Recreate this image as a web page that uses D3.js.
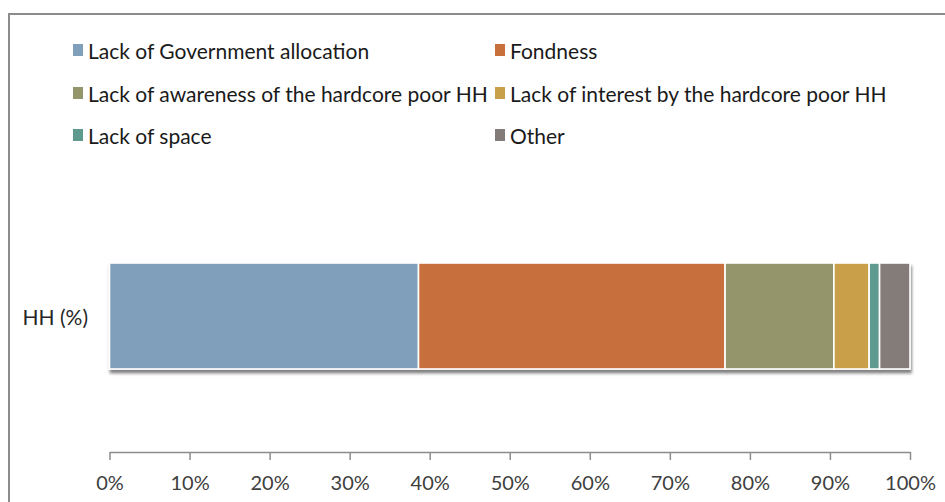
<!DOCTYPE html>
<html>
<head>
<meta charset="utf-8">
<script src="https://cdn.jsdelivr.net/npm/d3@7"></script>
<style>
  html, body { margin: 0; padding: 0; background: #fff; }
  svg { display: block; }
  text { font-family: Lato, "Open Sans", sans-serif; }
</style>
</head>
<body>
<svg id="chart" width="945" height="502"></svg>
<script>
// Reasons reported by households (share of HH, %)
const categories = ["HH (%)"];
const seriesNames = [
  "Lack of Government allocation",
  "Fondness",
  "Lack of awareness of the hardcore poor HH",
  "Lack of interest by the hardcore poor HH",
  "Lack of space",
  "Other"
];
const seriesValues = [38.6, 38.3, 13.6, 4.4, 1.3, 3.8];
const seriesColors = ["#7f9fba", "#c8703c", "#95956c", "#c9a04a", "#5f9a8e", "#837b78"];
const tickValues = [0, 10, 20, 30, 40, 50, 60, 70, 80, 90, 100];
const tickLabels = tickValues.map(v => v + "%");

const svg = d3.select("#chart");

// chart frame (left and top edges)
svg.append("path")
  .attr("d", "M9,502 V14 H945")
  .attr("fill", "none")
  .attr("stroke", "#8c8c8c")
  .attr("stroke-width", 2);

const x = d3.scaleLinear().domain([0, 100]).range([109.5, 910]);
const y = d3.scaleBand().domain(categories).range([232, 400]).paddingInner(0).paddingOuter(0.2925);

// drop shadow under the bar
const defs = svg.append("defs");
const f = defs.append("filter").attr("id", "shadow")
  .attr("x", "-5%").attr("y", "-10%").attr("width", "110%").attr("height", "130%");
f.append("feDropShadow").attr("dx", 1).attr("dy", 3.5).attr("stdDeviation", 1.5)
  .attr("flood-color", "#000").attr("flood-opacity", 0.5);

// stacked segments
let acc = 0;
const stacked = seriesValues.map((v, i) => {
  const d = { name: seriesNames[i], x0: acc, x1: acc + v, color: seriesColors[i], cat: categories[0] };
  acc += v;
  return d;
});

const barG = svg.append("g").attr("filter", "url(#shadow)");
barG.selectAll("rect")
  .data(stacked)
  .join("rect")
  .attr("x", d => x(d.x0))
  .attr("y", d => y(d.cat))
  .attr("width", d => x(d.x1) - x(d.x0))
  .attr("height", y.bandwidth())
  .attr("fill", d => d.color)
  .attr("stroke", "#fff")
  .attr("stroke-width", 1.6);

// category label
svg.append("text")
  .attr("x", 88)
  .attr("y", y(categories[0]) + y.bandwidth() / 2)
  .attr("text-anchor", "end")
  .attr("dominant-baseline", "central")
  .attr("font-size", 21)
  .attr("fill", "#262626")
  .text(categories[0]);

// x axis
const axis = d3.axisBottom(x)
  .tickValues(tickValues)
  .tickFormat((d, i) => tickLabels[i])
  .tickSize(8)
  .tickSizeOuter(0);
const ax = svg.append("g").attr("transform", "translate(0,452)").call(axis);
ax.select(".domain").attr("stroke", "#8c8c8c").attr("stroke-width", 1.5);
ax.selectAll(".tick line").attr("stroke", "#8c8c8c").attr("stroke-width", 1.5);
ax.selectAll(".tick text")
  .attr("font-family", "Lato, 'Open Sans', sans-serif")
  .attr("font-size", 20)
  .attr("fill", "#404040")
  .attr("dy", null)
  .attr("y", 30)
  .attr("dominant-baseline", "central");

// legend: two columns, three rows
const legX = [73, 495];
const legY = [50, 93, 135];
const leg = svg.append("g");
seriesNames.forEach((name, i) => {
  const cx = legX[i % 2], cy = legY[Math.floor(i / 2)];
  leg.append("rect")
    .attr("x", cx).attr("y", cy - 6)
    .attr("width", 10).attr("height", 12)
    .attr("fill", seriesColors[i]);
  leg.append("text")
    .attr("x", cx + 15).attr("y", cy)
    .attr("dominant-baseline", "central")
    .attr("font-size", 21)
    .attr("fill", "#1a1a1a")
    .text(name);
});
</script>
</body>
</html>
